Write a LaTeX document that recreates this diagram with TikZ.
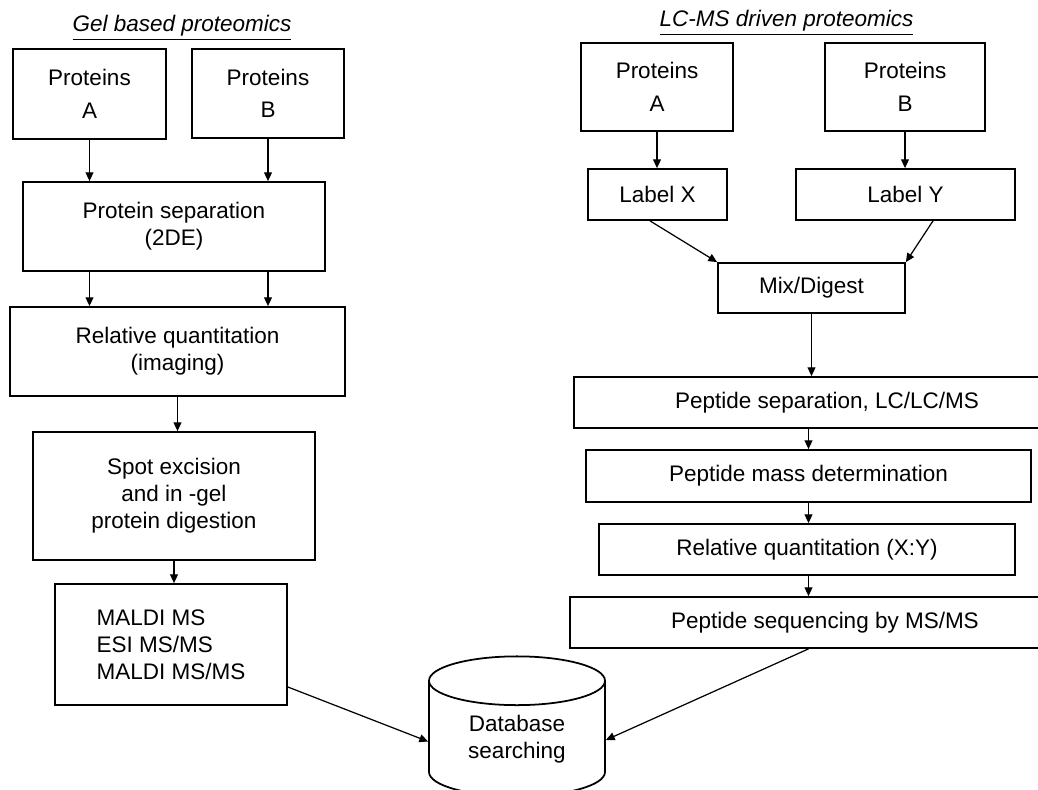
\documentclass[tikz,border=0pt]{standalone}
\usepackage{fontspec}
\setmainfont{Liberation Sans}
\usepackage{tikz}
\usetikzlibrary{positioning, arrows.meta, shapes.geometric}

\begin{document}
\begin{tikzpicture}[
    box/.style={draw, line width=1pt, rectangle, align=center, inner sep=0pt, font=\fontsize{12.8}{15.4}\selectfont},
    title/.style={anchor=base, inner sep=0pt, font=\fontsize{12.8}{15.4}\selectfont\itshape},
    db/.style={draw, line width=1pt, cylinder, shape border rotate=90, aspect=0.5, align=center, inner sep=0pt, font=\fontsize{12.8}{15.4}\selectfont},
    flow/.style={line width=0.7pt, -{Triangle[length=5pt, width=4.5pt]}},
]
\clip (0, 0) rectangle (20.76, -15.8);

% Gel based side
\node[title] (tg) at (3.64, -0.64) {\underline{Gel based proteomics}};
\node[box, minimum width=3.06cm, minimum height=1.8cm] (gA) at (1.79, -1.88) {Proteins\\[3pt]A};
\node[box, minimum width=3.04cm, minimum height=1.78cm] (gB) at (5.36, -1.87) {Proteins\\[3pt]B};
\node[box, minimum width=6.04cm, minimum height=1.78cm] (gSep) at (3.48, -4.53) {Protein separation\\(2DE)};
\node[box, minimum width=6.70cm, minimum height=1.78cm] (gRel) at (3.55, -7.03) {Relative quantitation\\(imaging)};
\node[box, minimum width=5.64cm, minimum height=2.56cm] (gSpot) at (3.48, -9.92) {Spot excision\\and in -gel\\protein digestion};
\node[box, align=left, minimum width=4.64cm, minimum height=2.42cm] (gMs) at (3.42, -12.89) {MALDI MS\\ESI MS/MS\\MALDI MS/MS};

\draw[flow] (gA.south) -- (gA.south |- gSep.north);
\draw[flow] (gB.south) -- (gB.south |- gSep.north);
\draw[flow] (gA.south |- gSep.south) -- (gA.south |- gRel.north);
\draw[flow] (gB.south |- gSep.south) -- (gB.south |- gRel.north);
\draw[flow] (gRel.south) -- (gRel.south |- gSpot.north);
\draw[flow] (gSpot.south) -- (gSpot.south |- gMs.north);

% LC-MS side
\node[title] (tl) at (15.73, -0.54) {\underline{LC-MS driven proteomics}};
\node[box, minimum width=3.04cm, minimum height=1.76cm] (lA) at (13.14, -1.74) {Proteins\\[3pt]A};
\node[box, minimum width=3.20cm, minimum height=1.76cm] (lB) at (18.10, -1.74) {Proteins\\[3pt]B};
\node[box, minimum width=2.78cm, minimum height=1.02cm] (lX) at (13.15, -3.89) {Label X};
\node[box, minimum width=4.38cm, minimum height=1.02cm] (lY) at (18.11, -3.89) {Label Y};
\node[box, minimum width=3.74cm, minimum height=1.0cm] (mix) at (16.23, -5.76) {Mix/Digest};
\node[box, minimum width=10.12cm, minimum height=1.02cm] (pSep) at (16.54, -8.05) {Peptide separation, LC/LC/MS};
\node[box, minimum width=8.90cm, minimum height=1.04cm] (pMass) at (16.17, -9.52) {Peptide mass determination};
\node[box, minimum width=8.32cm, minimum height=1.02cm] (rq) at (16.14, -10.99) {Relative quantitation (X:Y)};
\node[box, minimum width=10.20cm, minimum height=1.02cm] (pSeq) at (16.50, -12.45) {Peptide sequencing by MS/MS};

\draw[flow] (lA.south) -- (lA.south |- lX.north);
\draw[flow] (lB.south) -- (lB.south |- lY.north);
\draw[flow] ([xshift=-0.15cm]lX.south) -- (mix.north west);
\draw[flow] ([xshift=0.55cm]lY.south) -- (mix.north east);
\draw[flow] (mix.south) -- (mix.south |- pSep.north);
\draw[flow] (pMass.north |- pSep.south) -- (pMass.north);
\draw[flow] (pMass.south) -- (pMass.south |- rq.north);
\draw[flow] (pMass.south |- rq.south) -- (pMass.south |- pSeq.north);

% Database
\node[db, minimum width=3.52cm, minimum height=2.8cm] (dbs) at (10.34, -14.78) {Database\\searching};
\draw[flow] ([yshift=-0.85cm]gMs.east) -- ([yshift=-0.05cm]dbs.west);
\draw[flow] (pMass.south |- pSeq.south) -- ([yshift=-0.02cm]dbs.east);
\end{tikzpicture}
\end{document}
